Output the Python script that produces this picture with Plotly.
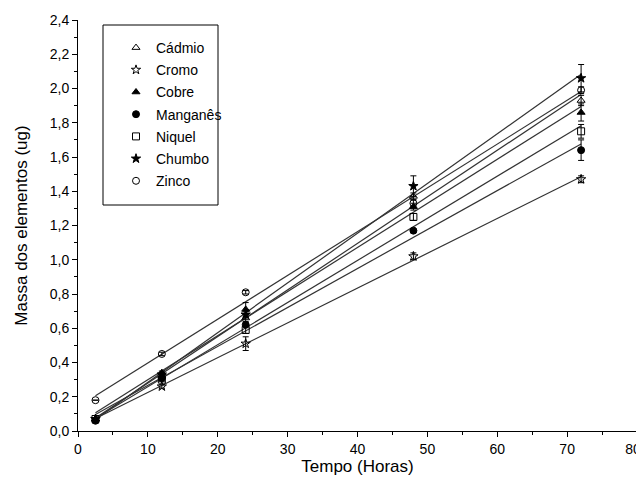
import numpy as np
import plotly.graph_objects as go

tempo = [2.5, 12, 24, 48, 72]
names = ["Cádmio", "Cromo", "Cobre", "Manganês", "Niquel", "Chumbo", "Zinco"]
cadmio = [0.07, 0.32, 0.66, 1.37, 1.93]
cromo = [0.07, 0.26, 0.51, 1.02, 1.47]
cobre = [0.07, 0.34, 0.71, 1.31, 1.86]
manganes = [0.06, 0.31, 0.62, 1.17, 1.64]
niquel = [0.07, 0.30, 0.59, 1.25, 1.75]
chumbo = [0.07, 0.33, 0.68, 1.43, 2.06]
zinco = [0.18, 0.45, 0.81, 1.33, 1.99]

err_cadmio = [0.0, 0.01, 0.02, 0.02, 0.03]
err_cromo = [0.0, 0.01, 0.04, 0.02, 0.02]
err_cobre = [0.0, 0.01, 0.04, 0.02, 0.05]
err_manganes = [0.0, 0.01, 0.01, 0.01, 0.06]
err_niquel = [0.0, 0.01, 0.02, 0.02, 0.04]
err_chumbo = [0.0, 0.01, 0.02, 0.06, 0.08]
err_zinco = [0.0, 0.01, 0.01, 0.02, 0.02]

x_ticks = [0, 10, 20, 30, 40, 50, 60, 70, 80]
x_labels = ["0", "10", "20", "30", "40", "50", "60", "70", "80\u00a0\u00a0"]
y_ticks = [0.0, 0.2, 0.4, 0.6, 0.8, 1.0, 1.2, 1.4, 1.6, 1.8, 2.0, 2.2, 2.4]

series = [cadmio, cromo, cobre, manganes, niquel, chumbo, zinco]
errors = [err_cadmio, err_cromo, err_cobre, err_manganes, err_niquel, err_chumbo, err_zinco]
symbols = ["triangle-up-open", "star-open", "triangle-up", "circle", "square-open", "star", "circle-open"]

fig = go.Figure()
xs = np.array(tempo)
for vals in series:
    k, b = np.polyfit(xs, np.array(vals), 1)
    xl = np.array([tempo[0], tempo[-1]])
    fig.add_trace(go.Scatter(x=xl, y=k * xl + b, mode="lines",
                             line=dict(color="#333333", width=1.2),
                             showlegend=False, hoverinfo="skip"))

for name, vals, err, sym in zip(names, series, errors, symbols):
    fig.add_trace(go.Scatter(
        x=tempo, y=vals, mode="markers", name=name, legendgroup=name,
        marker=dict(symbol=sym, size=7, color="black", line=dict(color="black", width=1)),
        error_y=dict(type="data", array=err, color="black", thickness=1, width=3),
    ))

# page body has an 8px margin: figure coordinates are screen coordinates minus 8
OFF = 8
W, H = 644 - OFF, 498 - 2 * OFF
L, R, T, B = 78 - OFF, 637 - OFF, 20 - OFF, 431 - OFF
pw, ph = R - L, B - T
fig.add_shape(type="rect", xref="paper", yref="paper",
              x0=(103 - OFF - L) / pw, x1=(218 - OFF - L) / pw,
              y0=(B - (205 - OFF)) / ph, y1=(B - (25 - OFF)) / ph,
              line=dict(color="black", width=1))

font = dict(family="Liberation Sans, Arial, sans-serif", size=14, color="black")
fig.update_layout(
    width=W, height=H,
    margin=dict(l=L, r=W - R, t=T, b=H - B),
    paper_bgcolor="white", plot_bgcolor="white",
    font=font,
    legend=dict(x=(116 - OFF - L) / pw, y=(B - (32 - OFF)) / ph, xanchor="left", yanchor="top",
                bgcolor="rgba(0,0,0,0)", borderwidth=0, tracegroupgap=1,
                font=dict(family="Liberation Sans, Arial, sans-serif", size=14)),
    xaxis=dict(range=[0, 80], tickvals=x_ticks, ticktext=x_labels,
               showline=True, linecolor="black", linewidth=1, automargin=False,
               ticks="outside", ticklen=5, tickcolor="black", showgrid=False, zeroline=False,
               ticklabeloverflow="allow",
               minor=dict(dtick=5, ticks="outside", ticklen=3, tickcolor="black"),
               title=dict(text="Tempo (Horas)", standoff=1), mirror=False),
    yaxis=dict(range=[0, 2.4], tickvals=y_ticks,
               ticktext=[f"{v:.1f}".replace(".", ",") for v in y_ticks],
               showline=True, linecolor="black", automargin=False,
               linewidth=1, ticks="outside", ticklen=5, tickcolor="black", showgrid=False,
               zeroline=False,
               minor=dict(dtick=0.1, ticks="outside", ticklen=3, tickcolor="black"),
               title=dict(text="Massa dos elementos (ug)", standoff=17), mirror=False),
)

fig.write_html("out.html")
